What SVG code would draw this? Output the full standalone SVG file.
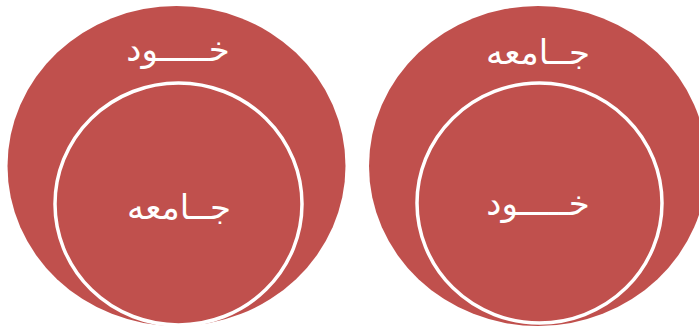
<svg xmlns="http://www.w3.org/2000/svg" width="699" height="327" viewBox="0 0 699 327">
  <style>
    .outer { fill: #C0504D; }
    .inner { fill: #C0504D; stroke: #FFFFFF; stroke-width: 3.5; }
    .label { fill: #FFFFFF; font-family: "DejaVu Sans", "Noto Sans", sans-serif; font-size: 34px; text-anchor: middle; }
  </style>
  <rect width="699" height="327" fill="#FFFFFF"/>
  <g id="left-diagram">
    <g id="left-outer">
      <ellipse class="outer" cx="176.5" cy="166" rx="169" ry="160"/>
      <text class="label" x="178" y="61">خـــــود</text>
    </g>
    <g id="left-inner">
      <ellipse class="inner" cx="178.5" cy="204" rx="123.5" ry="121"/>
      <text class="label" x="179" y="219">جــامعه</text>
    </g>
  </g>
  <g id="right-diagram">
    <g id="right-outer">
      <ellipse class="outer" cx="538" cy="166" rx="169" ry="160"/>
      <text class="label" x="538" y="64">جــامعه</text>
    </g>
    <g id="right-inner">
      <ellipse class="inner" cx="539.5" cy="203" rx="122.5" ry="120"/>
      <text class="label" x="538" y="215">خـــــود</text>
    </g>
  </g>
  <g id="connectors"/>
</svg>
